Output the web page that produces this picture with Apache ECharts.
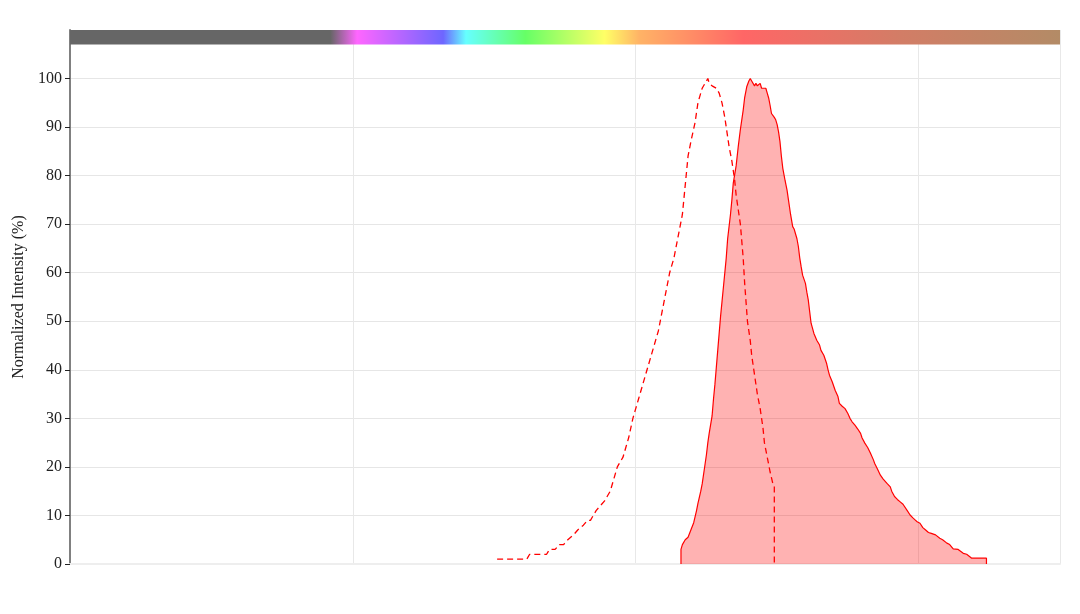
<!DOCTYPE html>
<html>
<head>
<meta charset="utf-8">
<script src="https://cdn.jsdelivr.net/npm/echarts@6/dist/echarts.min.js"></script>
<style>
  html, body { margin: 0; padding: 0; background: #fff; }
  #chart { width: 1080px; height: 614px; }
</style>
</head>
<body>
<div id="chart"></div>
<script>
// wavelength (nm) / normalized intensity (%)
var excitationNm = [502, 506, 510, 514, 518, 523, 525, 528, 533, 537, 539, 543, 546, 549, 552, 556, 559, 563, 566, 568,
  570, 572, 575, 578, 580, 582, 585, 587, 589, 591, 593, 595, 598, 600, 602, 605, 607, 609, 612, 614,
  616, 618, 620, 622, 624, 627, 629, 631, 633, 635, 637, 639, 642, 644, 646, 647, 649, 651, 652, 654,
  657, 659, 661, 663, 664, 666, 668, 670, 671, 673, 674, 676, 677, 678, 679, 681, 682, 684, 686, 688,
  690, 691, 693, 695, 697, 698, 698];
var excitationVal = [1, 1, 1, 1, 1, 1, 2, 2, 2, 2, 3, 3, 4, 4, 5, 6, 7, 8, 9, 9,
  10, 11, 12, 13, 14, 15, 18, 20, 21, 22, 24, 26, 30, 32, 34, 37, 39, 41, 44, 46,
  48, 51, 54, 57, 60, 63, 66, 69, 72, 78, 84, 87, 91, 95, 97, 98, 99, 100, 99, 98.5,
  98, 97, 95, 92, 90, 86, 83, 79, 76, 72, 70, 63, 58, 54, 50, 46, 43, 39, 35, 32,
  28, 25, 22, 19, 16.5, 16, 0];

var emissionNm = [632, 632, 633, 634, 635, 637, 639, 641, 643, 644, 646, 647, 649, 650, 651, 652, 654, 655, 656, 657,
  658, 659, 660, 661, 662, 664, 665, 667, 668, 669, 671, 672.5, 674, 676, 677, 678.5, 680, 681, 682, 683,
  684, 685, 686, 687, 688, 689, 690, 692, 693, 694, 695, 696, 698, 699, 700, 701, 702, 703, 704, 705.6,
  707, 708, 709.5, 711, 712, 713, 714, 715, 716, 717, 718, 720, 721, 722, 723, 724, 726, 728, 730, 731,
  733, 735, 736, 737, 739, 741, 743, 744, 746, 748, 750, 751.5, 753, 755, 757, 759, 760, 762, 764, 766,
  768, 769, 771, 773, 775, 776, 778, 780, 781, 783, 785, 787, 789, 790, 792, 794, 796, 797.5, 799, 801,
  803, 805, 807, 809, 812, 815, 817, 820, 822, 824.5, 828, 831.6, 834, 837.6, 842, 848, 848];
var emissionVal = [0, 3, 4, 4, 5, 5.5, 7, 8.5, 11, 12.5, 15, 16.5, 20.5, 22.5, 25, 27, 30.5, 34, 37, 40.5,
  44, 47.5, 51, 54, 57, 63, 67, 72, 75, 78.5, 82, 86, 89.5, 93.5, 96, 98.3, 99.5, 100, 99.5, 99.3,
  98.5, 99, 98.5, 98.5, 99, 98, 98, 98, 97, 96, 94.5, 92.8, 92, 91.5, 90.5, 89, 87, 84, 81.5, 79,
  77, 75, 72, 69.5, 69, 68.8, 67, 65.4, 63, 61.2, 59.5, 57.8, 56, 54.4, 52, 49.6, 47.5, 46.1, 45.1, 44,
  43, 41.3, 40, 38.9, 37.5, 35.8, 34.5, 33.1, 32.5, 32, 31, 30, 29.3, 28.6, 27.8, 26.9, 26, 24.9, 24, 22.8,
  21.5, 20.7, 19.5, 18.3, 17.5, 17.3, 16.5, 15.9, 15, 13.9, 13.3, 12.8, 12.3, 11.9, 11, 10.1, 9.5, 9.1, 8.7, 8.4,
  7.5, 7, 6.5, 6.3, 6, 5.3, 5, 4.3, 4, 3.1, 3, 2.2, 2, 1.2, 1.2, 1.2, 0];

var yTicks = [0, 10, 20, 30, 40, 50, 60, 70, 80, 90, 100];

// spectrum colour bar along the top (offsets along 200..900 nm)
var barStops = [
  [0, '#666666'], [0.263, '#666666'], [0.29, '#ff66ff'], [0.36, '#8a66ff'], [0.377, '#6e66ff'],
  [0.40, '#66ffff'], [0.46, '#66ff66'], [0.54, '#ffff66'], [0.575, '#ffb366'], [0.68, '#ff6666'],
  [0.84, '#d27d66'], [1, '#b38b66']
];

function pairs(xs, ys) {
  return xs.map(function (x, i) { return [x, ys[i]]; });
}

var chart = echarts.init(document.getElementById('chart'));
var font = '"Liberation Serif", "Times New Roman", serif';

chart.setOption({
  animation: false,
  grid: { left: 70, right: 20, top: 30, bottom: 50 },
  xAxis: {
    type: 'value',
    min: 200,
    max: 900,
    interval: 200,
    axisLine: { show: true, lineStyle: { color: '#eeeeee', width: 2 } },
    axisTick: { show: false },
    axisLabel: { show: false },
    splitLine: { show: true, lineStyle: { color: '#e8e8e8', width: 1 } }
  },
  yAxis: {
    type: 'value',
    min: 0,
    max: 110,
    interval: 10,
    name: 'Normalized Intensity (%)',
    nameLocation: 'middle',
    nameGap: 42,
    nameTextStyle: { fontFamily: font, fontSize: 16, color: '#222' },
    axisLine: { show: true, lineStyle: { color: '#808080', width: 2 } },
    axisTick: { show: true, length: 5, lineStyle: { color: '#222' }, customValues: yTicks },
    axisLabel: { fontFamily: font, fontSize: 16, color: '#222', margin: 8, customValues: yTicks },
    splitLine: { show: true, lineStyle: { color: '#e6e6e6', width: 1 } }
  },
  series: [
    {
      name: 'Emission',
      type: 'line',
      data: pairs(emissionNm, emissionVal),
      showSymbol: false,
      lineStyle: { color: '#ff0000', width: 1.2 },
      areaStyle: { color: '#ff0000', opacity: 0.3 },
      z: 3
    },
    {
      name: 'Excitation',
      type: 'line',
      data: pairs(excitationNm, excitationVal),
      showSymbol: false,
      lineStyle: { color: '#ff0000', width: 1.3, type: [6, 4] },
      z: 4,
      markArea: {
        silent: true,
        itemStyle: {
          color: {
            type: 'linear', x: 0, y: 0, x2: 1, y2: 0,
            colorStops: barStops.map(function (s) { return { offset: s[0], color: s[1] }; })
          }
        },
        data: [[{ xAxis: 200, yAxis: 107 }, { xAxis: 900, yAxis: 110 }]]
      }
    }
  ]
});
</script>
</body>
</html>
